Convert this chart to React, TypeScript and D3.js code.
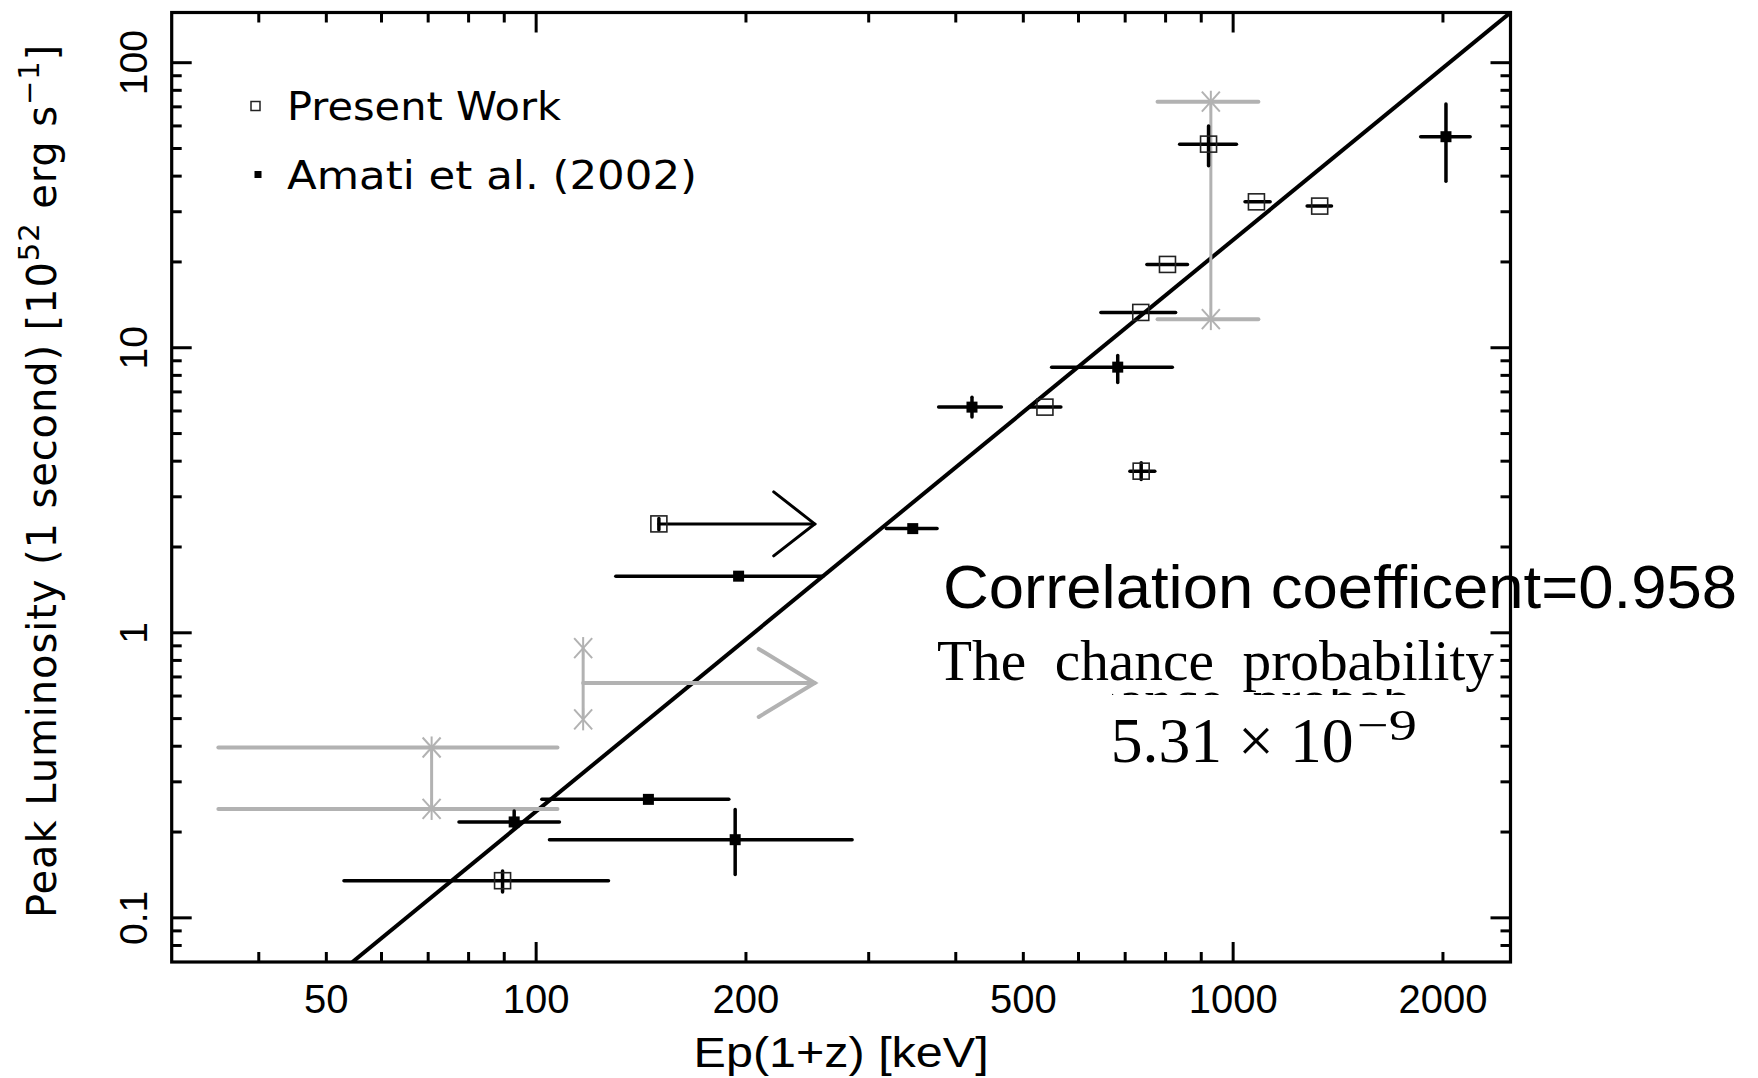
import React from 'react';
import * as d3 from 'd3';

const W = 1758;
const H = 1078;

// axis domains and tick labels
const xDomain = [30, 2500];
const yDomain = [0.07, 150];
const xTickLabels = [50, 100, 200, 500, 1000, 2000];
const yTickLabels = [0.1, 1, 10, 100];
const xMajor = [100, 1000];
const yMajor = [0.1, 1, 10, 100];

// Present Work (open squares)
const presentE = [89.5, 150, 537, 737, 805, 922, 1080, 1331, 738];
const presentL = [0.135, 2.41, 6.19, 13.3, 19.6, 51.8, 32.5, 31.4, 3.69];
const presentElo = [53.0, 150, 510, 646, 752, 838, 1040, 1277, 711];
const presentEhi = [127, 150, 566, 827, 860, 1011, 1130, 1384, 772];
const presentLlo = [0.1233, 2.3, 6.19, 13.3, 19.6, 43.5, 32.5, 31.4, 3.45];
const presentLhi = [0.146, 2.52, 6.19, 13.3, 19.6, 60, 32.5, 31.4, 3.95];

// Amati et al. (2002) (filled squares)
const amatiE = [93.0, 144.9, 193, 195.2, 347, 422, 683, 2020];
const amatiL = [0.217, 0.2604, 0.188, 1.58, 2.32, 6.19, 8.55, 55.0];
const amatiElo = [77.5, 101.9, 104.5, 130.1, 318, 378, 549, 1858];
const amatiEhi = [108, 189, 284, 258, 376, 465, 818, 2188];
const amatiLlo = [0.207, 0.2604, 0.142, 1.58, 2.32, 5.71, 7.55, 38.4];
const amatiLhi = [0.237, 0.2604, 0.24, 1.58, 2.32, 6.71, 9.4, 71.6];

// gray ranges (asterisk-ended vertical ranges, with horizontal bars)
const grayE = [70.8, 116.8, 929];
const grayLtop = [0.396, 0.884, 73.0];
const grayLbot = [0.241, 0.497, 12.6];
const grayBarElo = [35.0, NaN, 779];
const grayBarEhi = [107.3, NaN, 1087];

// lower-limit arrows
const arrowEfrom = [150, 116.8];
const arrowEto = [251, 251];
const arrowL = [2.41, 0.667];
const arrowGray = [false, true];

// fitted line end points
const fitE = [54.5, 2500];
const fitL = [0.07, 150];

const GRAY = '#b2b2b2';

export default function App() {
  const x = d3.scaleLog().domain(xDomain).range([171.7, 1510.5]);
  const y = d3.scaleLog().domain(yDomain).range([962, 12.5]);
  const [x0, x1] = x.range();
  const [y0, y1] = y.range();

  const xt = x.ticks().filter((t) => t > xDomain[0] && t < xDomain[1]);
  const yt = y.ticks().filter((t) => t > yDomain[0] && t < yDomain[1]);
  const isMaj = (arr: number[], v: number) => arr.some((m) => Math.abs(m - v) / m < 1e-6);

  const line = d3.line<[number, number]>().x((d) => x(d[0])).y((d) => y(d[1]));
  const fitPts: [number, number][] = fitE.map((e, i) => [e, fitL[i]]);

  const ast = (cx: number, cy: number, key: string) => (
    <g key={key} stroke={GRAY} strokeWidth={2}>
      <line x1={cx - 9} y1={cy - 10} x2={cx + 9} y2={cy + 10} />
      <line x1={cx - 9} y1={cy + 10} x2={cx + 9} y2={cy - 10} />
      <line x1={cx} y1={cy - 11} x2={cx} y2={cy + 11} />
    </g>
  );

  const fmt = (v: number) => String(v);
  const serif = "'Liberation Serif', 'Times New Roman', serif";

  return (
    <svg width={W} height={H} style={{ position: 'absolute', left: 0, top: 0, background: '#fff' }}>
      <rect x={0} y={0} width={W} height={H} fill="#fff" />
      <defs>
        <clipPath id="plotclip">
          <rect x={x0} y={y1} width={x1 - x0} height={y0 - y1} />
        </clipPath>
        <clipPath id="fragclip">
          <rect x={1112} y={689} width={300} height={6} />
        </clipPath>
      </defs>

      {/* annotation texts */}
      <text x={943} y={608} fontFamily="'Liberation Sans', Arial, sans-serif" fontSize={62}
        textLength={794} lengthAdjust="spacingAndGlyphs">Correlation coefficent=0.958</text>
      <text x={937} y={680} fontFamily={serif} fontSize={56} style={{ whiteSpace: 'pre' }}
        textLength={557} lengthAdjust="spacingAndGlyphs">{'The  chance  probability'}</text>
      <g clipPath="url(#fragclip)">
        <text x={947} y={719} fontFamily={serif} fontSize={56} style={{ whiteSpace: 'pre' }}
          textLength={557} lengthAdjust="spacingAndGlyphs">{'The  chance  probability'}</text>
      </g>
      <text x={1110.7} y={762} fontFamily={serif} fontSize={64}
        textLength={243} lengthAdjust="spacingAndGlyphs">5.31 × 10</text>
      <text x={1357} y={740} fontFamily={serif} fontSize={44}
        textLength={60} lengthAdjust="spacingAndGlyphs">−9</text>

      <g clipPath="url(#plotclip)">
        {/* fit line */}
        <path d={line(fitPts) || ''} fill="none" stroke="#000" strokeWidth={4} />

        {/* gray ranges */}
        {grayE.map((e, i) => (
          <g key={'g' + i}>
            {!isNaN(grayBarElo[i]) && (
              <g stroke={GRAY} strokeWidth={4} strokeLinecap="round">
                <line x1={x(grayBarElo[i])} x2={x(grayBarEhi[i])} y1={y(grayLtop[i])} y2={y(grayLtop[i])} />
                <line x1={x(grayBarElo[i])} x2={x(grayBarEhi[i])} y1={y(grayLbot[i])} y2={y(grayLbot[i])} />
              </g>
            )}
            <line x1={x(e)} x2={x(e)} y1={y(grayLtop[i])} y2={y(grayLbot[i])} stroke={GRAY} strokeWidth={3} />
            {ast(x(e), y(grayLtop[i]), 'at' + i)}
            {ast(x(e), y(grayLbot[i]), 'ab' + i)}
          </g>
        ))}

        {/* limit arrows */}
        {arrowEfrom.map((e, i) => {
          const col = arrowGray[i] ? GRAY : '#000';
          const tx = x(arrowEto[i]);
          const ty = y(arrowL[i]);
          const dx = arrowGray[i] ? 56 : 41;
          const dy = arrowGray[i] ? 34 : 32;
          return (
            <g key={'ar' + i} stroke={col} strokeWidth={arrowGray[i] ? 4 : 3} fill="none" strokeLinecap="round">
              <line x1={x(e)} x2={tx} y1={ty} y2={ty} />
              <polyline points={`${tx - dx},${ty - dy} ${tx},${ty} ${tx - dx},${ty + dy}`} />
            </g>
          );
        })}

        {/* Amati error bars */}
        {amatiE.map((e, i) => (
          <g key={'ae' + i} stroke="#000" strokeWidth={3.5} strokeLinecap="round">
            <line x1={x(amatiElo[i])} x2={x(amatiEhi[i])} y1={y(amatiL[i])} y2={y(amatiL[i])} />
            {amatiLhi[i] !== amatiLlo[i] && (
              <line x1={x(e)} x2={x(e)} y1={y(amatiLhi[i])} y2={y(amatiLlo[i])} />
            )}
          </g>
        ))}
        {amatiE.map((e, i) => (
          <rect key={'am' + i} x={x(e) - 5.5} y={y(amatiL[i]) - 5.5} width={11} height={11} fill="#000" />
        ))}

        {/* Present work error bars */}
        {presentE.map((e, i) => (
          <g key={'pe' + i} stroke="#000" strokeWidth={3.5} strokeLinecap="round">
            {presentEhi[i] !== presentElo[i] && (
              <line x1={x(presentElo[i])} x2={x(presentEhi[i])} y1={y(presentL[i])} y2={y(presentL[i])} />
            )}
            {presentLhi[i] !== presentLlo[i] && (
              <line x1={x(e)} x2={x(e)} y1={y(presentLhi[i])} y2={y(presentLlo[i])} />
            )}
          </g>
        ))}
        {presentE.map((e, i) => (
          <rect key={'pm' + i} x={x(e) - 8} y={y(presentL[i]) - 8} width={16} height={16}
            fill="none" stroke="#222" strokeWidth={1.6} />
        ))}
      </g>

      {/* legend */}
      <rect x={251} y={101.5} width={9} height={9} fill="none" stroke="#222" strokeWidth={1.5} />
      <text x={287} y={119.5} fontFamily="'DejaVu Sans', sans-serif" fontSize={39}
        textLength={274} lengthAdjust="spacingAndGlyphs">Present Work</text>
      <rect x={254.5} y={171} width={7} height={7} fill="#000" />
      <text x={287} y={188.5} fontFamily="'DejaVu Sans', sans-serif" fontSize={39}
        textLength={410} lengthAdjust="spacingAndGlyphs">Amati et al. (2002)</text>

      {/* ticks */}
      <g stroke="#000" strokeWidth={3}>
        {xt.map((t) => {
          const len = isMaj(xMajor, t) ? 20 : 10;
          return (
            <g key={'xt' + t}>
              <line x1={x(t)} x2={x(t)} y1={y0} y2={y0 - len} />
              <line x1={x(t)} x2={x(t)} y1={y1} y2={y1 + len} />
            </g>
          );
        })}
        {yt.map((t) => {
          const len = isMaj(yMajor, t) ? 20 : 10;
          return (
            <g key={'yt' + t}>
              <line x1={x0} x2={x0 + len} y1={y(t)} y2={y(t)} />
              <line x1={x1} x2={x1 - len} y1={y(t)} y2={y(t)} />
            </g>
          );
        })}
      </g>
      <rect x={x0} y={y1} width={x1 - x0} height={y0 - y1} fill="none" stroke="#000" strokeWidth={3.2} />

      {/* tick labels */}
      {xTickLabels.map((t) => (
        <text key={'xl' + t} x={x(t)} y={1013} textAnchor="middle"
          fontFamily="'Liberation Sans', Arial, sans-serif" fontSize={40}>{fmt(t)}</text>
      ))}
      {yTickLabels.map((t) => (
        <text key={'yl' + t} transform={`translate(147,${y(t)}) rotate(-90)`} textAnchor="middle"
          fontFamily="'Liberation Sans', Arial, sans-serif" fontSize={39}>{fmt(t)}</text>
      ))}

      {/* axis titles */}
      <text x={(x0 + x1) / 2} y={1067} textAnchor="middle" fontFamily="'Liberation Sans', Arial, sans-serif"
        fontSize={42} textLength={295} lengthAdjust="spacingAndGlyphs">Ep(1+z) [keV]</text>
      <text transform={`translate(56,918) rotate(-90)`} fontFamily="'DejaVu Sans', sans-serif" fontSize={40}
        letterSpacing={0.9}>
        <tspan>Peak Luminosity (1 second) [10</tspan>
        <tspan fontSize={29} dy={-17}>52</tspan>
        <tspan dy={17}> erg s</tspan>
        <tspan fontSize={29} dy={-17}>−1</tspan>
        <tspan dy={17}>]</tspan>
      </text>
    </svg>
  );
}
